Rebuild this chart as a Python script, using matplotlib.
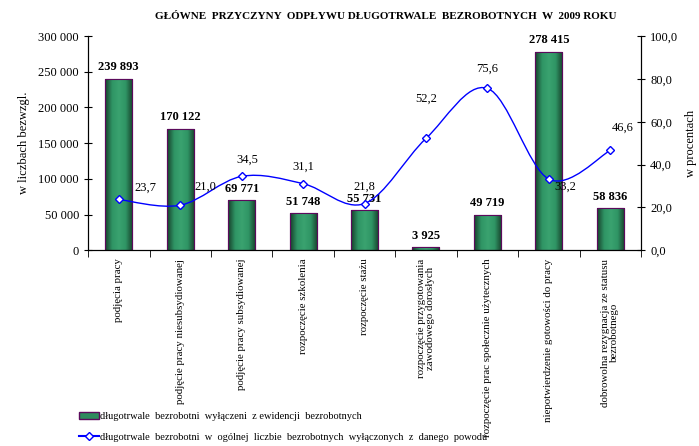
import numpy as np
import matplotlib.pyplot as plt
from matplotlib.path import Path
from matplotlib.patches import PathPatch, Patch
from matplotlib.lines import Line2D
from matplotlib.colors import LinearSegmentedColormap
from matplotlib.ticker import FuncFormatter, FixedLocator

plt.rcParams['font.family'] = ['Liberation Serif', 'DejaVu Serif']

# ── Data ──────────────────────────────────────────────────────────────────────
categories = ['podjęcia pracy',
              'podjęcie pracy niesubsydiowanej',
              'podjęcie pracy subsydiowanej',
              'rozpoczęcie szkolenia',
              'rozpoczęcie stażu',
              'rozpoczęcie przygotowania\nzawodowego dorosłych',
              'rozpoczęcie prac społecznie użytecznych',
              'niepotwierdzenie gotowości do pracy',
              'dobrowolna rezygnacja ze statusu\nbezrobotnego']
counts = [239893, 170122, 69771, 51748, 55731, 3925, 49719, 278415, 58836]
percents = [23.7, 21.0, 34.5, 31.1, 21.8, 52.2, 75.6, 33.2, 46.6]

# label offsets (points) for the percent labels
pct_offsets = [(19, 4), (18, 9), (4, 8), (0, 8), (0, 8), (0, 24), (0, 10), (12, -10), (9, 12)]

fmt_thousands = lambda v: f'{int(v):,}'.replace(',', ' ')
fmt_pct = lambda v: f'{v:.1f}'.replace('.', ',')

# ── Figure ────────────────────────────────────────────────────────────────────
fig = plt.figure(figsize=(6.99, 4.46), dpi=100)
ax = fig.add_axes([0.126, 0.439, 0.791, 0.48])
ax2 = ax.twinx()

x = np.arange(len(categories))
bw = 0.44
bars = ax.bar(x, counts, width=bw, color='#2e8b5e', edgecolor='#5c0a5c', linewidth=0.8, zorder=2)

# horizontal gradient inside each bar
grad_cmap = LinearSegmentedColormap.from_list('g', ['#17402b', '#2f9464', '#3aa370', '#2f9464', '#17402b'])
grad = np.linspace(0, 1, 64).reshape(1, -1)
for b in bars:
    im = ax.imshow(grad, cmap=grad_cmap, aspect='auto', zorder=2.1,
                   extent=[b.get_x(), b.get_x() + b.get_width(), 0, b.get_height()])
    im.set_clip_path(b)
    ax.add_patch(plt.Rectangle((b.get_x(), 0), b.get_width(), b.get_height(),
                               fill=False, edgecolor='#5c0a5c', linewidth=0.8, zorder=2.2))

for xi, v in zip(x, counts):
    ax.annotate(fmt_thousands(v), (xi, v), xytext=(0, 4), textcoords='offset points',
                ha='center', va='bottom', fontsize=9, fontweight='bold')

ax.set_xlim(-0.5, len(categories) - 0.5)
ax.set_ylim(0, 300000)
ax.set_yticks(np.arange(0, 300001, 50000))
ax.yaxis.set_major_formatter(FuncFormatter(lambda v, p: fmt_thousands(v)))
ax.set_xticks(x)
ax.set_xticklabels(categories, rotation=90, fontsize=7.8, va='top', ha='center', linespacing=0.95)
ax.xaxis.set_minor_locator(FixedLocator(np.arange(-0.5, len(categories), 1.0)))
ax.tick_params(axis='x', which='major', length=0, pad=6)
ax.tick_params(axis='x', which='minor', length=5, direction='out')
ax.tick_params(axis='y', direction='inout', length=6, labelsize=9)
ax.set_ylabel('w liczbach bezwzgl.', fontsize=9, labelpad=6)
ax.spines['top'].set_visible(False)

# smooth line (Catmull-Rom drawn as Bezier curves)
px = x.astype(float)
py = np.array(percents, dtype=float)
verts = [(px[0], py[0])]
codes = [Path.MOVETO]
for i in range(len(px) - 1):
    p0 = np.array([px[max(i - 1, 0)], py[max(i - 1, 0)]])
    p1 = np.array([px[i], py[i]])
    p2 = np.array([px[i + 1], py[i + 1]])
    p3 = np.array([px[min(i + 2, len(px) - 1)], py[min(i + 2, len(px) - 1)]])
    c1 = p1 + (p2 - p0) / 6
    c2 = p2 - (p3 - p1) / 6
    verts += [tuple(c1), tuple(c2), tuple(p2)]
    codes += [Path.CURVE4] * 3
ax2.add_patch(PathPatch(Path(verts, codes), facecolor='none', edgecolor='#0000ff', linewidth=1, zorder=3))
ax2.plot(px, py, linestyle='none', marker='D', markersize=4.5, markerfacecolor='white',
         markeredgecolor='#0000ff', markeredgewidth=1, zorder=4)
for xi, v, off in zip(px, py, pct_offsets):
    ax2.annotate(fmt_pct(v), (xi, v), xytext=off, textcoords='offset points',
                 ha='center', va='bottom', fontsize=9)

ax2.set_ylim(0, 100)
ax2.set_yticks(np.arange(0, 101, 20))
ax2.yaxis.set_major_formatter(FuncFormatter(lambda v, p: fmt_pct(v)))
ax2.tick_params(axis='y', direction='inout', length=6, labelsize=9)
ax2.set_ylabel('w procentach', fontsize=9, labelpad=5)
ax2.spines['top'].set_visible(False)

fig.text(0.552, 0.962, 'GŁÓWNE  PRZYCZYNY  ODPŁYWU DŁUGOTRWALE  BEZROBOTNYCH  W  2009 ROKU',
         ha='center', va='center', fontsize=8, fontweight='bold')

# legend
handles = [Patch(facecolor='#2e8b5e', edgecolor='#5c0a5c'),
           Line2D([], [], color='#0000ff', marker='D', markersize=4.5,
                  markerfacecolor='white', markeredgecolor='#0000ff')]
labels = ['długotrwale  bezrobotni  wyłączeni  z ewidencji  bezrobotnych',
          'długotrwale  bezrobotni  w  ogólnej  liczbie  bezrobotnych  wyłączonych  z  danego  powodu']
fig.legend(handles, labels, loc='lower left', bbox_to_anchor=(0.1, -0.012), frameon=False,
           fontsize=7.5, handlelength=1.9, handletextpad=0.05, labelspacing=1.1)

fig.savefig('out.png', dpi=100)
